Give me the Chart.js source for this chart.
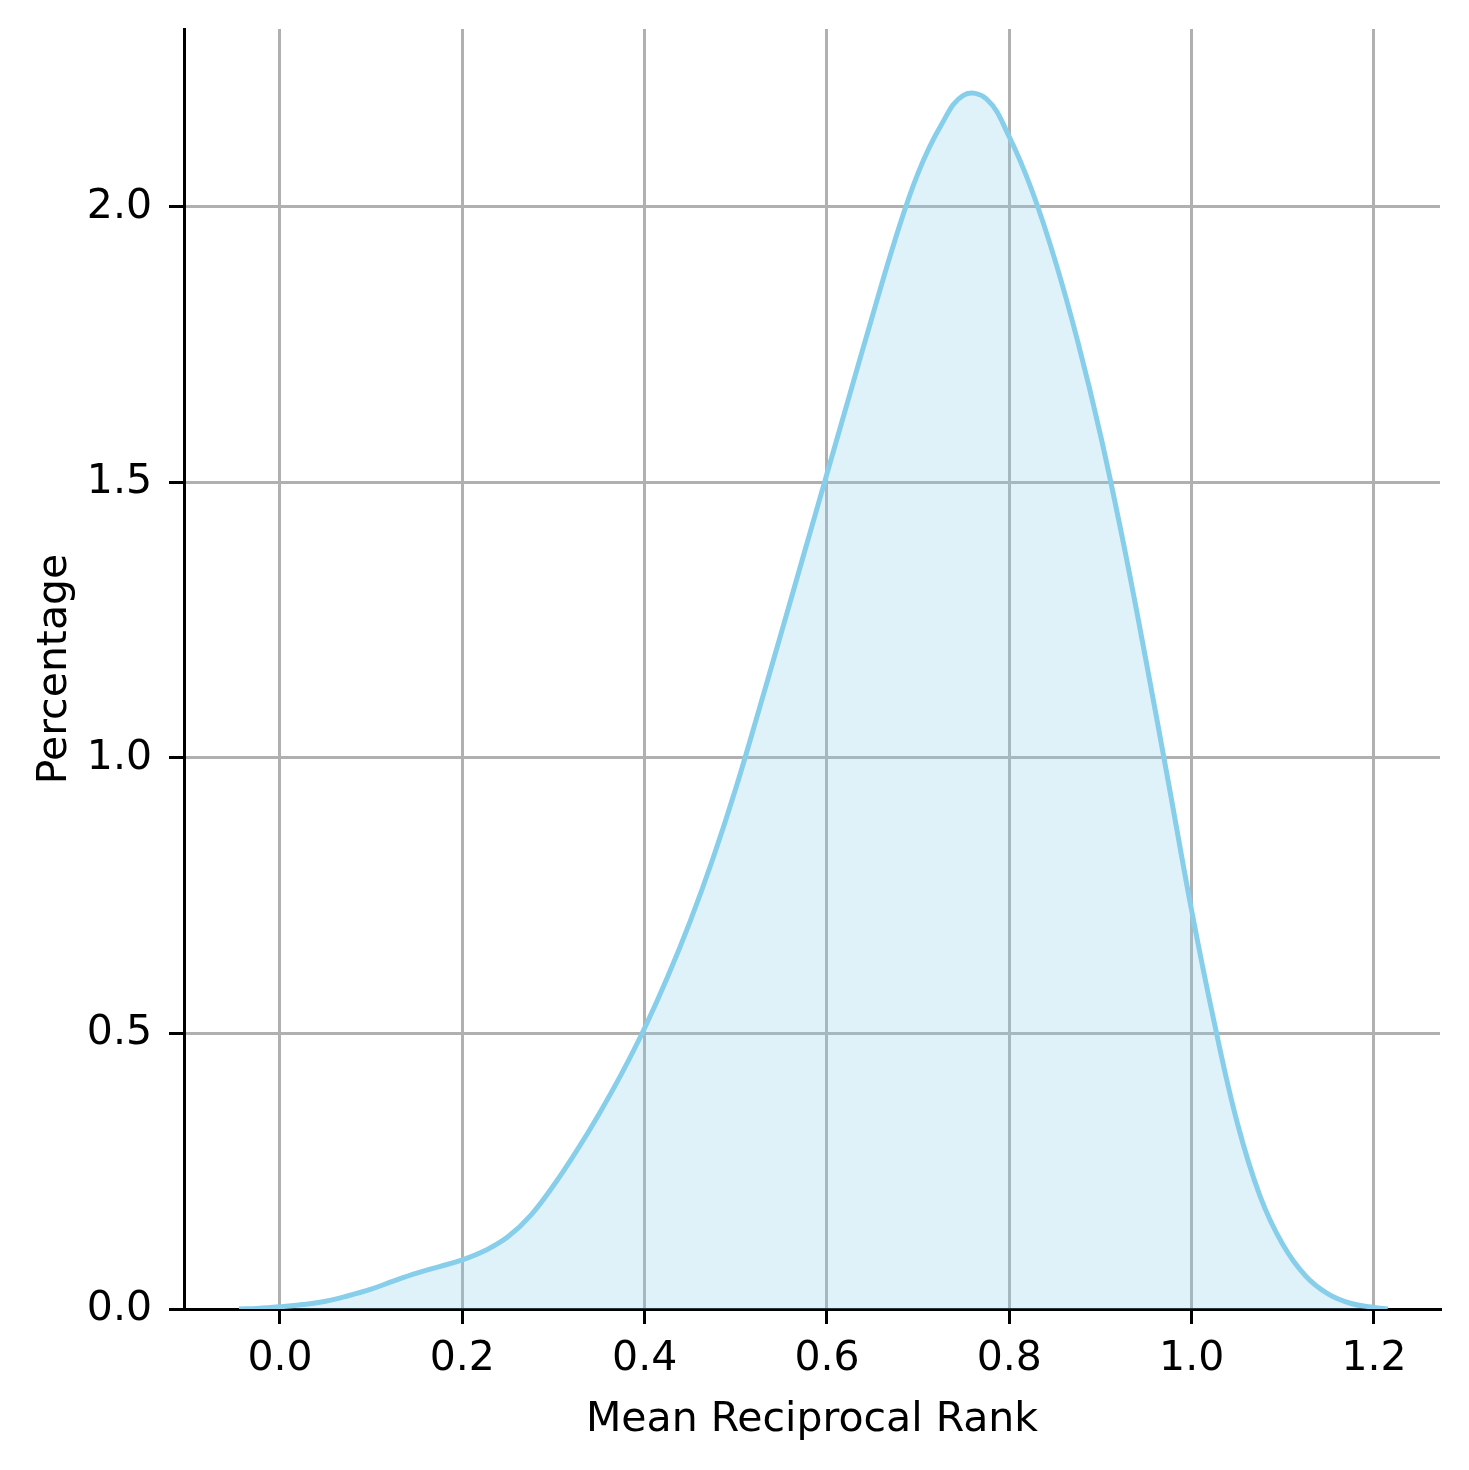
<!DOCTYPE html>
<html>
<head>
<meta charset="utf-8">
<script src="https://cdn.jsdelivr.net/npm/chart.js@4.4.1/dist/chart.umd.min.js"></script>
<style>
  html, body { margin: 0; padding: 0; background: #fff; }
  #chart { display: block; }
</style>
</head>
<body>
<canvas id="chart" width="1469" height="1470" style="width:1469px;height:1470px"></canvas>
<script>
// density curve (x = MRR, y = density)
const mrrValues = [
  -0.045, -0.025, 0.0, 0.025, 0.05, 0.075, 0.1, 0.125, 0.15, 0.175,
  0.2, 0.225, 0.25, 0.275, 0.3, 0.325, 0.35, 0.375, 0.4, 0.425,
  0.45, 0.475, 0.5, 0.525, 0.55, 0.575, 0.6, 0.625, 0.65, 0.675,
  0.7, 0.725, 0.75, 0.775, 0.8, 0.825, 0.85, 0.875, 0.9, 0.925,
  0.95, 0.975, 1.0, 1.025, 1.05, 1.075, 1.1, 1.125, 1.15, 1.175,
  1.2, 1.215
];
const densityValues = [
  0.0, 0.001, 0.004, 0.008, 0.014, 0.024, 0.036, 0.051, 0.065, 0.077,
  0.089, 0.106, 0.131, 0.17, 0.224, 0.286, 0.354, 0.428, 0.51, 0.602,
  0.704, 0.818, 0.945, 1.085, 1.228, 1.372, 1.516, 1.66, 1.803, 1.942,
  2.062, 2.148, 2.203, 2.196, 2.127, 2.029, 1.904, 1.756, 1.586, 1.391,
  1.176, 0.951, 0.723, 0.518, 0.338, 0.205, 0.117, 0.06, 0.027, 0.01,
  0.003, 0.0
];
const xTickValues = [0.0, 0.2, 0.4, 0.6, 0.8, 1.0, 1.2];
const yTickValues = [0.0, 0.5, 1.0, 1.5, 2.0];

const FONT = 'DejaVu Sans';
const GRID_COLOR = '#b0b0b0';

const points = mrrValues.map((x, i) => ({ x: x, y: densityValues[i] }));

new Chart(document.getElementById('chart'), {
  type: 'scatter',
  data: {
    datasets: [{
      data: points,
      showLine: true,
      borderColor: '#87ceeb',
      backgroundColor: 'rgba(135, 206, 235, 0.27)',
      borderWidth: 5,
      pointRadius: 0,
      fill: 'origin',
      tension: 0.4
    }]
  },
  options: {
    responsive: false,
    devicePixelRatio: 1,
    animation: false,
    layout: { padding: { top: 29, right: 29, left: 0, bottom: 0 } },
    plugins: {
      legend: { display: false },
      tooltip: { enabled: false }
    },
    scales: {
      x: {
        type: 'linear',
        min: -0.1053,
        max: 1.2724,
        afterBuildTicks(scale) {
          scale.ticks = xTickValues.map(v => ({ value: v }));
        },
        afterFit(scale) {
          scale.height = 161;
          scale.paddingLeft = 0;
          scale.paddingRight = 0;
        },
        grid: {
          color: GRID_COLOR,
          lineWidth: 3,
          tickColor: '#000',
          tickWidth: 3,
          tickLength: 15
        },
        border: { color: '#000', width: 3 },
        ticks: {
          color: '#000',
          font: { family: FONT, size: 41 },
          padding: 11,
          maxRotation: 0,
          autoSkip: false,
          callback: v => v.toFixed(1)
        },
        title: {
          display: true,
          text: 'Mean Reciprocal Rank',
          color: '#000',
          font: { family: FONT, size: 41 },
          padding: { top: 0, bottom: 25 }
        }
      },
      y: {
        type: 'linear',
        min: 0,
        max: 2.323,
        afterBuildTicks(scale) {
          scale.ticks = yTickValues.map(v => ({ value: v }));
        },
        afterFit(scale) {
          scale.width = 184;
          scale.paddingTop = 0;
          scale.paddingBottom = 0;
        },
        grid: {
          color: GRID_COLOR,
          lineWidth: 3,
          tickColor: '#000',
          tickWidth: 3,
          tickLength: 15
        },
        border: { color: '#000', width: 3 },
        ticks: {
          color: '#000',
          font: { family: FONT, size: 41 },
          padding: 17,
          callback: v => v.toFixed(1)
        },
        title: {
          display: true,
          text: 'Percentage',
          color: '#000',
          font: { family: FONT, size: 41 },
          padding: { top: 31, bottom: 0 }
        }
      }
    }
  }
});
</script>
</body>
</html>
